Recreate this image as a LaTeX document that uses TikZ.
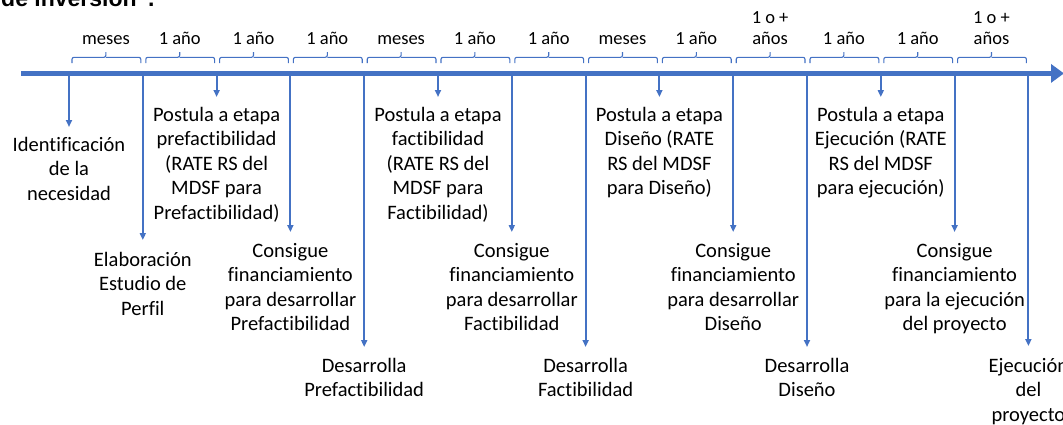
\documentclass[tikz,border=0pt]{standalone}
\usepackage{fontspec}
\setmainfont{Carlito}[Ligatures={NoCommon,NoRare}]
\newfontfamily\titlefont{Liberation Sans}
\usetikzlibrary{arrows.meta}
\definecolor{axisblue}{HTML}{4472C4}
\begin{document}
\begin{tikzpicture}[x=1pt,y=-1pt,
  axisline/.style={draw=axisblue,line width=5.3pt,-{Triangle[length=13pt,width=18pt]}},
  drop/.style={draw=axisblue,line width=2pt,-{Triangle[length=7pt,width=6pt]}},
  bracepath/.style={draw=axisblue,line width=1.1pt,rounded corners=2pt},
  lbl/.style={font=\fontsize{20.5}{24.5}\selectfont,align=center,inner sep=0pt,anchor=north,
    execute at begin node={\rule{0pt}{15pt}}},
  dur/.style={font=\fontsize{18.5}{21}\selectfont,align=center,inner sep=0pt,anchor=south},
  titletext/.style={font=\titlefont\bfseries\fontsize{23}{28}\selectfont,inner sep=0pt,anchor=base west}
]
\useasboundingbox (0,0) rectangle (1063,424);
\clip (0,0) rectangle (1063,424);

% cropped title
\node[titletext] (title) at (1,6) {de inversión”.};

% time axis
\coordinate (axs) at (21,73.4);
\coordinate (axe) at (1064,73.4);
\draw[axisline] (axs) -- (axe);

% ticks with arrows down
\foreach \i/\ye in {0/127,1/240,2/97,3/232,4/347,5/97,6/232,7/347,8/97,9/232,10/347,11/97,12/232,13/346}{
  \pgfmathsetmacro\xx{69+73.8*\i}
  \coordinate (t\i) at (\xx,73.4);
  \coordinate (e\i) at (\xx,\ye);
  \draw[drop] (t\i) -- (e\i);
}

% braces with durations
\foreach \i/\t in {0/meses,1/1 año,2/1 año,3/1 año,4/meses,5/1 año,6/1 año,7/meses,8/1 año,9/{1 o +\\años},10/1 año,11/1 año,12/{1 o +\\años}}{
  \pgfmathsetmacro\xa{69+73.8*\i+3}
  \pgfmathsetmacro\xb{69+73.8*(\i+1)-2}
  \pgfmathsetmacro\xm{69+73.8*(\i+0.5)}
  \draw[bracepath] (\xa,63) -- (\xa,57.3) -- (\xm,57.3) -- (\xm,52);
  \draw[bracepath] (\xm,57.3) -- (\xb,57.3) -- (\xb,63);
  \node[dur] (d\i) at (\xm,45) {\t};
}

% stage labels
\node[lbl] (n0) at (69,137) {Identificación\\de la\\necesidad};
\node[lbl] (n1) at (142.8,252) {Elaboración\\Estudio de\\Perfil};
\node[lbl] (n2) at (216.6,107) {Postula a etapa\\prefactibilidad\\(RATE RS del\\MDSF para\\Prefactibilidad)};
\node[lbl] (n3) at (290.4,243) {Consigue\\financiamiento\\para desarrollar\\Prefactibilidad};
\node[lbl] (n4) at (364.2,358) {Desarrolla\\Prefactibilidad};
\node[lbl] (n5) at (438,107) {Postula a etapa\\factibilidad\\(RATE RS del\\MDSF para\\Factibilidad)};
\node[lbl] (n6) at (511.8,243) {Consigue\\financiamiento\\para desarrollar\\Factibilidad};
\node[lbl] (n7) at (585.6,358) {Desarrolla\\Factibilidad};
\node[lbl] (n8) at (659.4,107) {Postula a etapa\\Diseño (RATE\\RS del MDSF\\para Diseño)};
\node[lbl] (n9) at (733.2,243) {Consigue\\financiamiento\\para desarrollar\\Diseño};
\node[lbl] (n10) at (807,358) {Desarrolla\\Diseño};
\node[lbl] (n11) at (880.8,107) {Postula a etapa\\Ejecución (RATE\\RS del MDSF\\para ejecución)};
\node[lbl] (n12) at (954.6,243) {Consigue\\financiamiento\\para la ejecución\\del proyecto};
\node[lbl] (n13) at (1028.4,358) {Ejecución\\del\\proyecto};
\end{tikzpicture}
\end{document}
